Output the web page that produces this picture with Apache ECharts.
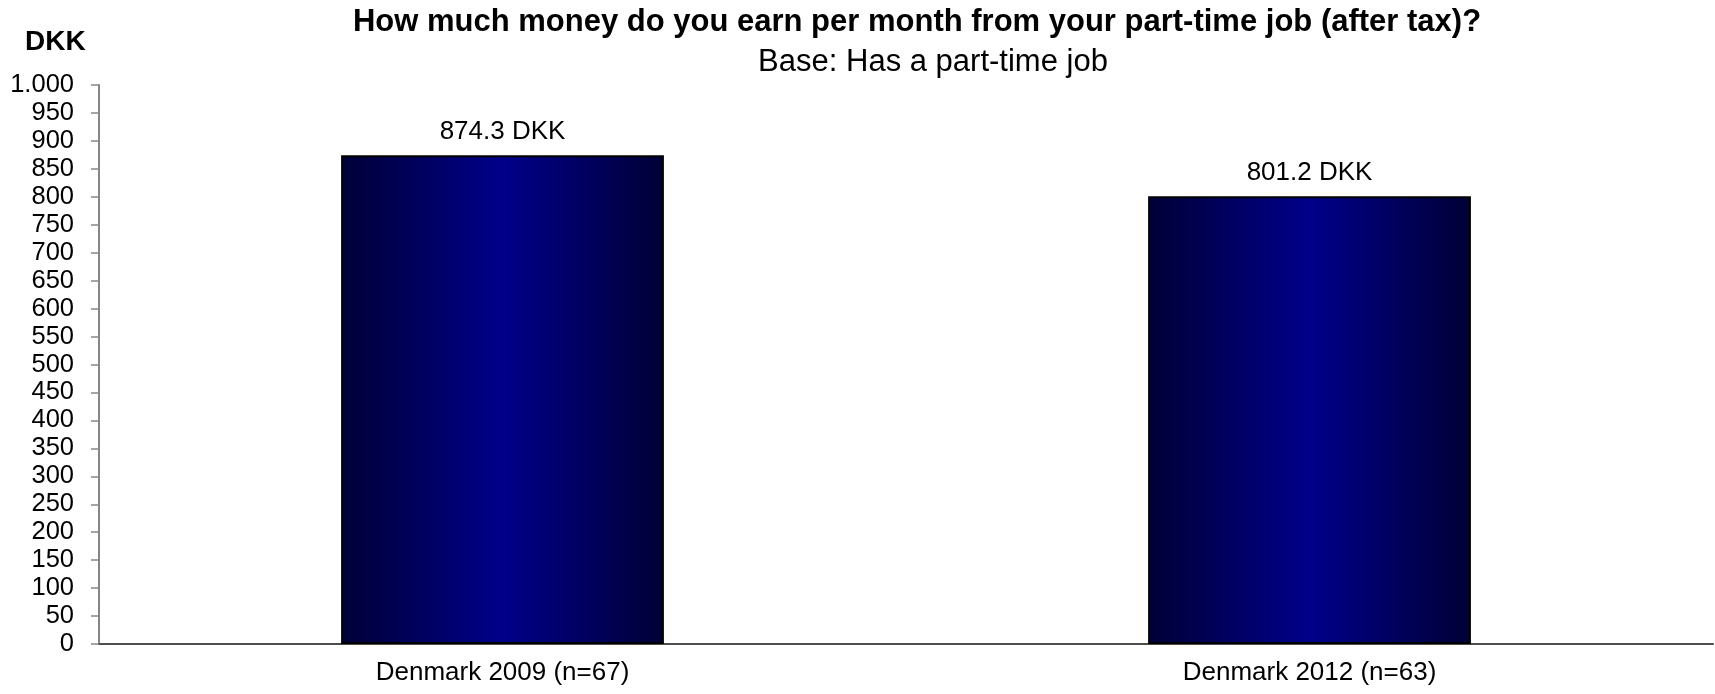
<!DOCTYPE html>
<html>
<head>
<meta charset="utf-8">
<title>Part-time job earnings</title>
<script src="https://cdn.jsdelivr.net/npm/echarts@6/dist/echarts.min.js"></script>
<style>
  html, body { margin: 0; padding: 0; background: #ffffff; }
  #chart { width: 1715px; height: 694px; }
</style>
</head>
<body>
<div id="chart"></div>
<script>
// Survey groups and their average monthly earnings (DKK, after tax)
const categories = ['Denmark 2009 (n=67)', 'Denmark 2012 (n=63)'];
const earnings = [874.3, 801.2];

const titleText = 'How much money do you earn per month from your part-time job (after tax)?';
const subtitleText = 'Base: Has a part-time job';
const unitText = 'DKK';

const FONT = '"Liberation Sans", Arial, Helvetica, sans-serif';

const chart = echarts.init(document.getElementById('chart'), null, { renderer: 'canvas' });

const barFill = new echarts.graphic.LinearGradient(0, 0, 1, 0, [
  { offset: 0, color: '#000036' },
  { offset: 0.5, color: '#00008a' },
  { offset: 1, color: '#000036' }
]);

chart.setOption({
  animation: false,
  backgroundColor: '#ffffff',
  textStyle: { fontFamily: FONT },
  graphic: [
    {
      type: 'text', x: 917, y: 22,
      style: { text: titleText, font: 'bold 31px ' + FONT, fill: '#000', align: 'center', verticalAlign: 'middle' }
    },
    {
      type: 'text', x: 933, y: 62,
      style: { text: subtitleText, font: '31px ' + FONT, fill: '#000', align: 'center', verticalAlign: 'middle' }
    },
    {
      type: 'text', x: 25, y: 42,
      style: { text: unitText, font: 'bold 28px ' + FONT, fill: '#000', align: 'left', verticalAlign: 'middle' }
    }
  ],
  grid: { left: 99, right: 2, top: 85, bottom: 50, containLabel: false },
  xAxis: {
    type: 'category',
    data: categories,
    axisLine: { show: true, lineStyle: { color: '#4d4d4d', width: 2 } },
    axisTick: { show: false },
    axisLabel: { color: '#000', fontSize: 26, fontFamily: FONT, margin: 16 },
    splitLine: { show: false }
  },
  yAxis: {
    type: 'value',
    min: 0, max: 1000, interval: 50,
    axisLine: { show: true, lineStyle: { color: '#868686', width: 2 } },
    axisTick: { show: true, length: 8, lineStyle: { color: '#868686', width: 1.5 } },
    axisLabel: {
      color: '#000', fontSize: 25.5, fontFamily: FONT, margin: 25,
      formatter: v => v >= 1000 ? (v / 1000).toFixed(0) + '.' + String(v % 1000).padStart(3, '0') : String(v)
    },
    splitLine: { show: false }
  },
  series: [{
    type: 'bar',
    data: earnings,
    barWidth: '40%',
    itemStyle: { color: barFill, borderColor: '#000000', borderWidth: 2 },
    label: {
      show: true, position: 'top', distance: 10,
      color: '#000', fontSize: 26, fontFamily: FONT,
      formatter: p => p.value.toFixed(1) + ' DKK'
    }
  }]
});
</script>
</body>
</html>
